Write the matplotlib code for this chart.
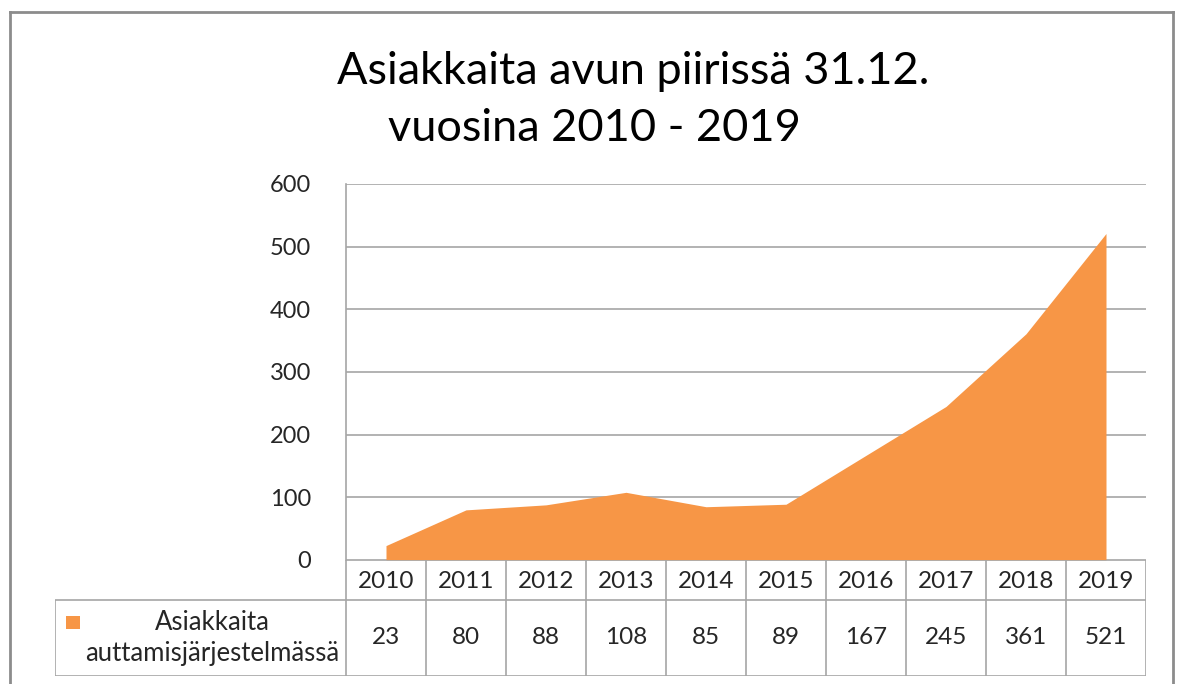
import matplotlib
matplotlib.use("Agg")
import matplotlib.pyplot as plt
from matplotlib.lines import Line2D
from matplotlib.patches import Rectangle

years = ["2010", "2011", "2012", "2013", "2014", "2015", "2016", "2017", "2018", "2019"]
clients = [23, 80, 88, 108, 85, 89, 167, 245, 361, 521]
series_name = "Asiakkaita\nauttamisjärjestelmässä"
title_lines = ["Asiakkaita avun piirissä 31.12.", "vuosina 2010 - 2019"]
y_ticks = [0, 100, 200, 300, 400, 500, 600]

W, H = 1179, 684
ORANGE = "#F79646"
GRID = "#A6A6A6"
TXT = "#262626"

plt.rcParams["font.family"] = ["Lato", "DejaVu Sans"]

fig = plt.figure(figsize=(W / 100, H / 100), dpi=100)


def fx(px):
    return px / W


def fy(py):
    return 1 - py / H


# outer chart frame (bottom edge cut off in the reference)
for xs, ys in [((10, 10), (12, H)), ((10, 1173), (12, 12)), ((1173, 1173), (12, H))]:
    fig.add_artist(Line2D([fx(x) for x in xs], [fy(y) for y in ys],
                          color="#8C8C8C", lw=2))

# title
fig.text(fx(633), fy(84), title_lines[0], ha="center", va="baseline",
         fontsize=32.5, color="#000000")
fig.text(fx(594), fy(141), title_lines[1], ha="center", va="baseline",
         fontsize=32.5, color="#000000")

# plot area
left, right, top, bottom = 346, 1146, 184, 560
ax = fig.add_axes([fx(left), fy(bottom), fx(right - left), (bottom - top) / H])
xpos = [i + 0.5 for i in range(len(years))]
ax.fill_between(xpos, clients, 0, color=ORANGE, lw=0)
ax.set_xlim(0, len(years))
ax.set_ylim(0, 600)
ax.set_yticks(y_ticks)
ax.set_yticklabels([str(v) for v in y_ticks], fontsize=17, color=TXT)
ax.tick_params(axis="y", length=0, pad=25)
ax.set_xticks([])
ax.grid(axis="y", color=GRID, lw=1.2)
ax.set_axisbelow(True)
for s in ["top", "right", "bottom"]:
    ax.spines[s].set_visible(False)
ax.spines["left"].set_color(GRID)
ax.spines["left"].set_linewidth(1.2)

# data table below the plot
tleft, ttop, tbot = 55, 560, 676
row_split = 600
col_w = (right - left) / len(years)
legend_w = (left - tleft) / col_w
tax = fig.add_axes([fx(tleft), fy(tbot), fx(right - tleft), (tbot - ttop) / H])
tax.set_xlim(-legend_w, len(years))
tax.set_ylim(tbot, ttop)
tax.axis("off")

lk = dict(color=GRID, lw=1.2, solid_capstyle="butt")
tax.plot([0, len(years)], [ttop, ttop], **lk)
tax.plot([-legend_w, len(years)], [row_split, row_split], **lk)
tax.plot([-legend_w, len(years)], [tbot, tbot], **lk)
tax.plot([-legend_w, -legend_w], [row_split, tbot], **lk)
for i in range(len(years) + 1):
    tax.plot([i, i], [ttop, tbot], **lk)

for i, (yr, v) in enumerate(zip(years, clients)):
    tax.text(i + 0.5, (ttop + row_split) / 2 + 1.5, yr, ha="center", va="center",
             fontsize=17.5, color=TXT)
    tax.text(i + 0.5, (row_split + tbot) / 2, str(v), ha="center", va="center",
             fontsize=17.5, color=TXT)

# legend key and series name
tax.add_patch(Rectangle((-legend_w + 11 / col_w, 616), 14 / col_w, 13,
                        color=ORANGE, lw=0))
tax.text(-legend_w + (212 - tleft) / col_w, (row_split + tbot) / 2, series_name,
         ha="center", va="center", fontsize=18.5, color=TXT, linespacing=1.3)

fig.savefig("out.png", dpi=100)
